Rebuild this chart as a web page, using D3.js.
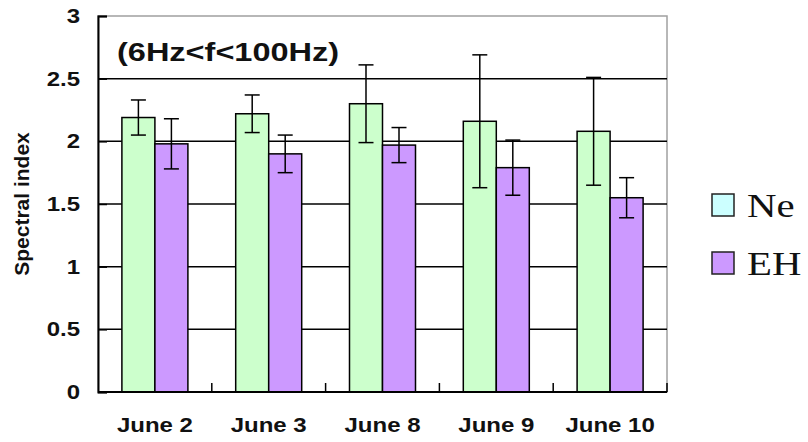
<!DOCTYPE html>
<html>
<head>
<meta charset="utf-8">
<script src="https://cdn.jsdelivr.net/npm/d3@7"></script>
<style>
  body { margin: 0; background: #fff; }
  text { font-family: "Liberation Sans", Arial, sans-serif; }
  text.serif { font-family: "Liberation Serif", "Times New Roman", serif; }
</style>
</head>
<body>
<div id="chart"></div>
<script>
// data
const days = ["June 2", "June 3", "June 8", "June 9", "June 10"];
const series = ["Ne", "EH"];
const neValues = [2.19, 2.22, 2.30, 2.16, 2.08];
const neErrors = [0.14, 0.15, 0.31, 0.53, 0.43];
const ehValues = [1.98, 1.90, 1.97, 1.79, 1.55];
const ehErrors = [0.20, 0.15, 0.14, 0.22, 0.16];
const yTicks = [0, 0.5, 1, 1.5, 2, 2.5, 3];

const width = 808,
  height = 442,
  margin = { top: 16, right: 141, bottom: 50, left: 98 };
const stretch = 1.2; // the picture's lettering is a bit wide

const barColor = { Ne: "#ccffcc", EH: "#cc99ff" };
const legendColor = { Ne: "#ccffff", EH: "#cc99ff" };

const rows = days.map((d, i) => ({
  day: d,
  bars: [
    { key: "Ne", value: neValues[i], err: neErrors[i] },
    { key: "EH", value: ehValues[i], err: ehErrors[i] },
  ],
}));

const svg = d3.select("#chart")
  .append("svg")
  .attr("width", width)
  .attr("height", height);

const x0 = d3.scaleBand()
  .domain(days)
  .range([margin.left, width - margin.right])
  .paddingInner(0.42)
  .paddingOuter(0.21);

const x1 = d3.scaleBand()
  .domain(series)
  .range([0, x0.bandwidth()]);

const y = d3.scaleLinear()
  .domain([0, 3])
  .range([height - margin.bottom, margin.top]);

// plot frame (grey top and right)
svg.append("rect")
  .attr("x", margin.left)
  .attr("y", margin.top)
  .attr("width", width - margin.right - margin.left)
  .attr("height", height - margin.bottom - margin.top)
  .attr("fill", "none")
  .attr("stroke", "#a0a0a0")
  .attr("stroke-width", 1.5);

// gridlines
svg.append("g")
  .selectAll("line")
  .data(yTicks.filter(t => t > 0 && t < 3))
  .join("line")
  .attr("x1", margin.left)
  .attr("x2", width - margin.right)
  .attr("y1", d => y(d))
  .attr("y2", d => y(d))
  .attr("stroke", "#000")
  .attr("stroke-width", 1.5);

// y axis
const yAxis = svg.append("g")
  .attr("transform", `translate(${margin.left},0)`)
  .call(d3.axisLeft(y).tickValues(yTicks).tickFormat(d3.format("")).tickSize(-9).tickPadding(18));
yAxis.select(".domain").attr("stroke-width", 2);
yAxis.selectAll(".tick line").attr("stroke-width", 1.5);
yAxis.selectAll(".tick text")
  .attr("font-size", 20)
  .attr("font-weight", "bold")
  .attr("fill", "#111")
  .attr("x", null)
  .attr("transform", `translate(-18,0) scale(${stretch},1)`);

// bars
const group = svg.append("g")
  .selectAll("g")
  .data(rows)
  .join("g")
  .attr("transform", d => `translate(${x0(d.day)},0)`);

group.selectAll("rect")
  .data(d => d.bars)
  .join("rect")
  .attr("x", d => x1(d.key))
  .attr("y", d => y(d.value))
  .attr("width", x1.bandwidth())
  .attr("height", d => y(0) - y(d.value))
  .attr("fill", d => barColor[d.key])
  .attr("stroke", "#000")
  .attr("stroke-width", 1.5);

// error bars
const err = group.selectAll("g.err")
  .data(d => d.bars)
  .join("g")
  .attr("class", "err")
  .attr("transform", d => `translate(${x1(d.key) + x1.bandwidth() / 2},0)`)
  .attr("stroke", "#000")
  .attr("stroke-width", 1.5);

err.append("line")
  .attr("y1", d => y(d.value + d.err))
  .attr("y2", d => y(d.value - d.err));
err.append("line")
  .attr("x1", -7.5).attr("x2", 7.5)
  .attr("y1", d => y(d.value + d.err))
  .attr("y2", d => y(d.value + d.err));
err.append("line")
  .attr("x1", -7.5).attr("x2", 7.5)
  .attr("y1", d => y(d.value - d.err))
  .attr("y2", d => y(d.value - d.err));

// x axis with short inward ticks between the groups
const xb = svg.append("g")
  .attr("transform", `translate(0,${y(0)})`);
xb.append("line")
  .attr("x1", margin.left)
  .attr("x2", width - margin.right)
  .attr("stroke", "#000")
  .attr("stroke-width", 2);
xb.selectAll("line.tk")
  .data(days.slice(1).concat(["end"]))
  .join("line")
  .attr("class", "tk")
  .attr("x1", d => d === "end" ? width - margin.right : x0(d) - x0.step() * x0.paddingInner() / 2)
  .attr("x2", d => d === "end" ? width - margin.right : x0(d) - x0.step() * x0.paddingInner() / 2)
  .attr("y1", 0)
  .attr("y2", -9)
  .attr("stroke", "#000")
  .attr("stroke-width", 1.5);
xb.selectAll("text")
  .data(days)
  .join("text")
  .attr("transform", d => `translate(${x0(d) + x0.bandwidth() / 2},40) scale(${stretch},1)`)
  .attr("text-anchor", "middle")
  .attr("font-size", 20)
  .attr("font-weight", "bold")
  .attr("fill", "#111")
  .text(d => d);

// y axis title
svg.append("text")
  .attr("transform", `translate(29,${y(1.5)}) rotate(-90)`)
  .attr("text-anchor", "middle")
  .attr("font-size", 21)
  .attr("font-weight", "bold")
  .attr("fill", "#111")
  .text("Spectral index");

// in-plot label
svg.append("text")
  .attr("transform", `translate(117,61) scale(${stretch + 0.05},1)`)
  .attr("font-size", 26)
  .attr("font-weight", "bold")
  .attr("fill", "#111")
  .text("(6Hz<f<100Hz)");

// legend
const legend = svg.append("g")
  .selectAll("g")
  .data(series)
  .join("g")
  .attr("transform", (d, i) => `translate(712,${194 + i * 58})`);
legend.append("rect")
  .attr("width", 22)
  .attr("height", 22)
  .attr("fill", d => legendColor[d])
  .attr("stroke", "#222")
  .attr("stroke-width", 1.5);
legend.append("text")
  .attr("class", "serif")
  .attr("transform", `translate(35,23) scale(${stretch},1)`)
  .attr("font-size", 34)
  .attr("fill", "#111")
  .text(d => d);
</script>
</body>
</html>
